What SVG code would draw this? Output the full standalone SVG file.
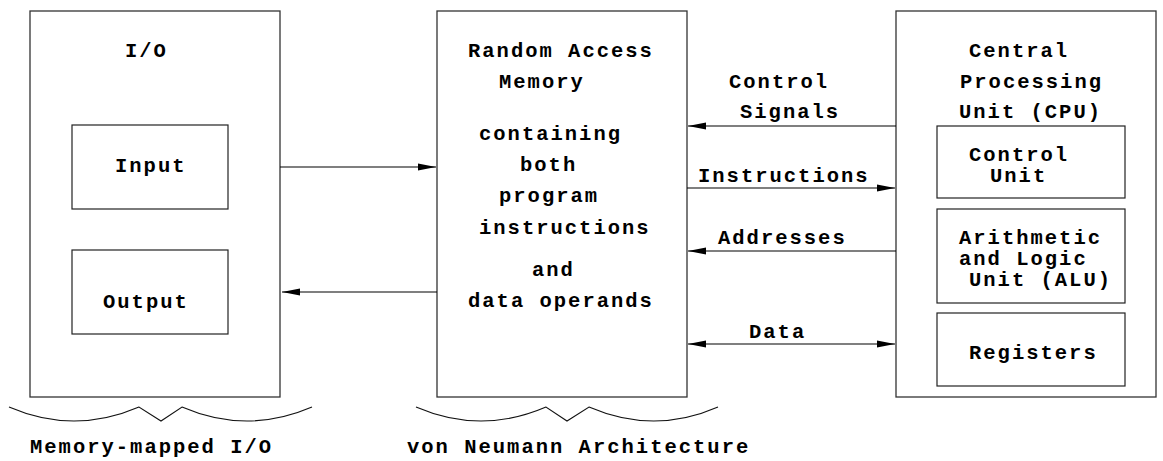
<svg xmlns="http://www.w3.org/2000/svg" width="1163" height="461" viewBox="0 0 1163 461">
  <style>
    .box { fill: #ffffff; stroke: #333333; stroke-width: 1.3; }
    .inner { fill: #ffffff; stroke: #222222; stroke-width: 1.2; }
    .wire { fill: none; stroke: #000000; stroke-width: 1.1; }
    .brace { fill: none; stroke: #111111; stroke-width: 1.1; }
    text { font-family: "Liberation Mono", "Courier New", monospace; font-weight: bold; font-size: 20.5px; letter-spacing: 2px; fill: #000000; }
  </style>
  <defs>
    <marker id="arrowEnd" markerWidth="18" markerHeight="8" refX="18" refY="4" orient="auto" markerUnits="userSpaceOnUse">
      <path d="M0,0.5 L18,4 L0,7.5 Z" fill="#000000"/>
    </marker>
    <marker id="arrowStart" markerWidth="18" markerHeight="8" refX="0" refY="4" orient="auto" markerUnits="userSpaceOnUse">
      <path d="M18,0.5 L0,4 L18,7.5 Z" fill="#000000"/>
    </marker>
  </defs>

  <!-- I/O block -->
  <g id="io">
    <rect class="box" x="30" y="11" width="250" height="386"/>
    <text x="125" y="57">I/O</text>
    <g id="input">
      <rect class="inner" x="72" y="125" width="156" height="84"/>
      <text x="115" y="172">Input</text>
    </g>
    <g id="output">
      <rect class="inner" x="72" y="250" width="156" height="84"/>
      <text x="103" y="308">Output</text>
    </g>
  </g>

  <!-- Memory block -->
  <g id="ram">
    <rect class="box" x="437" y="11" width="250" height="386"/>
    <text x="468" y="57">Random Access</text>
    <text x="499" y="88">Memory</text>
    <text x="479" y="140">containing</text>
    <text x="520" y="171">both</text>
    <text x="499" y="202">program</text>
    <text x="479" y="234">instructions</text>
    <text x="532" y="276">and</text>
    <text x="468" y="307">data operands</text>
  </g>

  <!-- CPU block -->
  <g id="cpu">
    <rect class="box" x="896" y="11" width="260" height="386"/>
    <text x="969" y="57">Central</text>
    <text x="960" y="88">Processing</text>
    <text x="959" y="118">Unit (CPU)</text>
    <g id="control-unit">
      <rect class="inner" x="937" y="126" width="188" height="72"/>
      <text x="969" y="161">Control</text>
      <text x="990" y="182">Unit</text>
    </g>
    <g id="alu">
      <rect class="inner" x="937" y="209" width="188" height="94"/>
      <text x="959" y="244">Arithmetic</text>
      <text x="959" y="265">and Logic</text>
      <text x="969" y="286">Unit (ALU)</text>
    </g>
    <g id="registers">
      <rect class="inner" x="937" y="313" width="188" height="73"/>
      <text x="969" y="359">Registers</text>
    </g>
  </g>

  <!-- Connectors -->
  <g id="connectors">
    <line class="wire" x1="280" y1="167" x2="436" y2="167" marker-end="url(#arrowEnd)"/>
    <line class="wire" x1="437" y1="292" x2="282" y2="292" marker-end="url(#arrowEnd)"/>
    <line class="wire" x1="896" y1="126" x2="688" y2="126" marker-end="url(#arrowEnd)"/>
    <line class="wire" x1="687" y1="188" x2="895" y2="188" marker-end="url(#arrowEnd)"/>
    <line class="wire" x1="896" y1="251" x2="688" y2="251" marker-end="url(#arrowEnd)"/>
    <line class="wire" x1="688" y1="344" x2="895" y2="344" marker-start="url(#arrowStart)" marker-end="url(#arrowEnd)"/>
    <text x="729" y="88">Control</text>
    <text x="740" y="118">Signals</text>
    <text x="698" y="182">Instructions</text>
    <text x="718" y="244">Addresses</text>
    <text x="749" y="338">Data</text>
  </g>

  <!-- Group braces and captions -->
  <g id="brace-io">
    <path class="brace" d="M9,407 Q74,435 139,407 L161,421 L182,407 Q247,435 312,407"/>
    <text x="30" y="453">Memory-mapped I/O</text>
  </g>
  <g id="brace-vn">
    <path class="brace" d="M416,407 Q481,435 546,407 L567,421 L589,407 Q654,435 718,407"/>
    <text x="407" y="453">von Neumann Architecture</text>
  </g>
</svg>
